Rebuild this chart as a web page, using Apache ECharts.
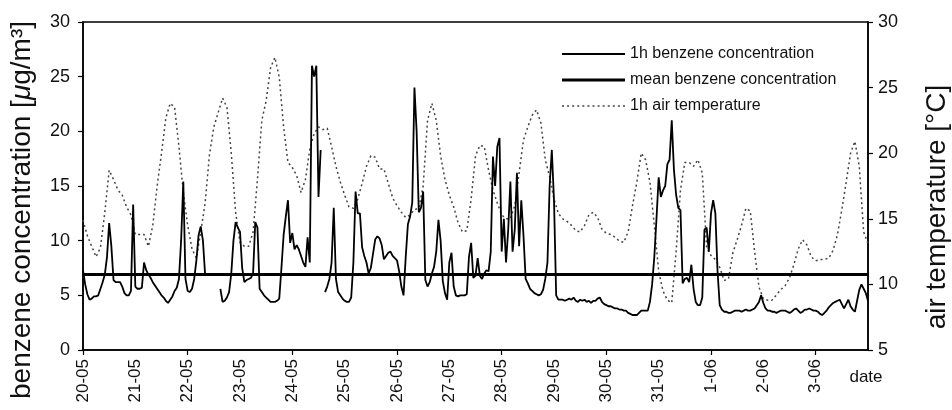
<!DOCTYPE html>
<html>
<head>
<meta charset="utf-8">
<script src="https://cdn.jsdelivr.net/npm/echarts@6/dist/echarts.min.js"></script>
<style>
html,body{margin:0;padding:0;background:#fff;}
#chart{width:952px;height:410px;}
</style>
</head>
<body>
<div id="chart"></div>
<script>
// x-axis day labels (one per day, hourly data from 20-05 00:00 to 4-06 00:00)
const dayLabels = ['20-05','21-05','22-05','23-05','24-05','25-05','26-05','27-05','28-05','29-05','30-05','31-05','1-06','2-06','3-06'];

// 1h benzene concentration [ug/m3], hourly, null = missing
const benzene1h = [
  7.3,6.0,5.1,4.6,4.7,4.9,4.9,5.0,5.6,6.2,6.9,8.5,11.6,9.5,6.4,6.2,6.2,6.2,5.8,5.2,5.0,5.0,5.4,13.3,
  5.8,5.6,5.6,5.7,8.0,7.3,6.9,6.6,6.2,5.9,5.6,5.3,5.0,4.8,4.5,4.3,4.6,4.9,5.4,5.7,6.5,10.0,15.4,6.5,
  5.4,5.3,5.6,6.5,8.2,10.5,11.3,10.0,6.9,null,null,null,null,null,null,5.6,4.4,4.5,4.8,5.3,7.0,10.0,11.7,11.2,
  10.8,7.5,6.2,6.4,6.5,6.6,7.0,11.7,11.2,5.6,5.3,5.0,4.8,4.6,4.4,4.4,4.4,4.5,4.7,7.5,10.5,12.2,13.7,9.8,
  10.7,9.2,9.6,9.2,8.6,8.0,7.6,10.3,8.0,26.0,25.0,26.0,14.0,18.3,null,5.3,5.8,6.5,8.0,13.0,6.5,5.3,5.0,4.7,
  4.5,4.4,4.4,4.8,8.0,14.5,12.5,12.5,9.4,8.6,8.0,7.0,7.5,8.8,10.1,10.4,10.2,9.6,8.3,8.6,8.9,9.0,8.6,8.4,
  8.2,7.2,5.8,5.0,8.5,11.5,12.2,13.5,24.0,20.0,12.6,13.0,14.5,6.4,5.8,6.2,7.0,7.6,9.0,11.9,10.0,6.3,5.2,4.6,
  8.0,8.9,5.8,5.0,4.9,5.0,5.0,5.0,5.1,8.5,9.8,6.6,6.8,8.4,6.8,6.5,7.0,7.3,7.2,9.0,17.7,15.0,18.6,19.4,
  9.0,12.0,8.0,11.0,15.4,9.0,11.0,16.2,9.5,13.7,10.5,6.5,6.1,5.6,5.4,5.2,5.1,5.0,5.1,5.5,6.5,8.0,15.0,18.3,
  13.7,5.0,4.6,4.6,4.6,4.5,4.6,4.7,4.6,4.8,4.5,4.4,4.6,4.5,4.6,4.4,4.5,4.3,4.5,4.5,4.7,4.8,4.4,4.2,
  4.1,4.0,4.0,3.9,3.8,3.8,3.7,3.7,3.6,3.6,3.4,3.3,3.2,3.2,3.2,3.4,3.6,3.6,3.6,3.6,4.4,6.0,8.5,12.0,
  15.8,14.0,14.6,15.0,17.0,17.4,21.0,16.5,14.2,13.0,12.8,6.1,6.5,6.6,6.2,7.8,5.6,4.4,4.1,4.1,4.8,11.0,11.2,9.0,
  12.5,13.7,12.5,7.2,4.1,3.7,3.5,3.5,3.4,3.4,3.5,3.6,3.6,3.6,3.5,3.6,3.7,3.6,3.6,3.7,3.8,4.1,4.4,5.0,
  4.3,3.8,3.6,3.6,3.5,3.5,3.4,3.5,3.6,3.6,3.6,3.5,3.4,3.5,3.7,3.8,3.6,3.4,3.5,3.7,3.7,3.8,3.7,3.6,
  3.6,3.5,3.3,3.2,3.4,3.6,3.9,4.1,4.3,4.4,4.5,4.6,4.2,3.8,4.2,4.6,4.0,3.7,3.5,4.5,5.5,6.0,5.6,5.2,4.5
];

// mean benzene concentration over the period [ug/m3]
const meanBenzene = 6.9;

// 1h air temperature [deg C], read every 2 hours
const temp2h = [
  14.9,13.7,12.9,12.1,12.8,15.5,18.7,18.0,17.2,16.8,
  15.9,15.3,13.8,13.8,13.8,12.9,14.5,17.5,20.0,22.7,
  23.8,23.5,20.5,17.0,14.5,12.7,12.0,14.0,16.2,19.9,
  22.0,23.1,24.2,23.5,20.0,15.5,13.2,12.9,12.9,14.0,
  18.0,22.5,24.0,26.5,27.3,25.8,22.0,19.3,18.9,18.3,
  17.0,18.0,20.3,21.5,22.0,21.8,21.9,20.5,19.0,17.8,
  16.8,15.9,15.8,16.5,17.7,19.0,19.8,19.7,18.8,18.8,
  17.7,16.6,16.0,15.5,15.1,15.3,15.7,15.8,17.5,22.5,
  23.8,22.5,19.8,18.0,16.8,15.9,14.7,14.0,14.1,16.5,
  19.8,20.6,20.5,18.7,17.2,16.2,15.3,15.0,15.0,16.0,
  18.5,21.0,22.0,22.9,23.3,22.3,19.5,18.2,16.5,15.4,
  15.0,14.8,14.5,14.1,14.0,14.5,15.3,15.5,15.1,14.2,
  13.9,13.8,13.6,13.3,13.2,14.0,16.0,17.8,20.0,19.5,
  17.8,14.5,11.0,9.5,8.8,8.6,12.5,17.2,19.3,19.3,
  19.0,19.5,18.5,12.8,12.2,11.9,11.3,10.3,10.4,12.4,
  13.4,14.5,15.8,15.6,12.5,9.8,8.9,8.8,8.8,9.2,
  9.6,9.9,10.5,11.5,12.7,13.4,13.0,12.1,11.8,11.9,
  11.9,12.0,12.6,13.8,15.7,17.8,20.0,20.9,19.0,14.0,
  13.1
];

// hourly categories
const hours = [];
for (let h = 0; h < benzene1h.length; h++) hours.push(h);
const tempHourly = hours.map(h => (h % 2 === 0 ? temp2h[h / 2] : null));
const lastHour = hours.length - 1;

// legend icons (plain line samples, no symbol)
const solidIcon = (t) => 'path://M0,0h64v' + t + 'h-64z';
let dotPath = 'path://';
for (let p = 0; p <= 60; p += 5) dotPath += 'M' + p + ',0h2v1.3h-2z';

const FONT = '"Liberation Sans", Arial, sans-serif';
const chart = echarts.init(document.getElementById('chart'), null, {renderer: 'canvas'});

chart.setOption({
  animation: false,
  backgroundColor: '#fff',
  textStyle: {fontFamily: FONT},
  grid: {left: 83, right: 84, top: 22, bottom: 60, show: true, borderColor: '#000', borderWidth: 1.5},
  legend: {
    orient: 'vertical', left: 557, top: 41,
    itemWidth: 63, itemHeight: 14, itemGap: 10,
    textStyle: {fontSize: 16, color: '#111', fontFamily: FONT},
    data: [
      {name: '1h benzene concentration', icon: solidIcon(1.8)},
      {name: 'mean benzene concentration', icon: solidIcon(3)},
      {name: '1h air temperature', icon: dotPath}
    ]
  },
  xAxis: {
    type: 'category', data: hours, boundaryGap: false,
    axisLine: {lineStyle: {color: '#000', width: 1.5}},
    axisTick: {interval: (i) => i % 48 === 0, length: 5, lineStyle: {color: '#000', width: 1.2}},
    axisLabel: {
      interval: (i) => i % 24 === 0 && i < lastHour,
      rotate: 90, fontSize: 17, color: '#111', margin: 9, fontFamily: FONT,
      formatter: (v) => dayLabels[Number(v) / 24] || ''
    },
    splitLine: {show: false}
  },
  yAxis: [
    {
      type: 'value', min: 0, max: 30, interval: 5,
      axisLine: {show: true, lineStyle: {color: '#000', width: 1.5}},
      axisTick: {show: true, length: 5, lineStyle: {color: '#000', width: 1.2}},
      axisLabel: {fontSize: 18, color: '#111', margin: 13, fontFamily: FONT},
      splitLine: {show: false}
    },
    {
      type: 'value', position: 'right', min: 5, max: 30, interval: 5,
      axisLine: {show: true, lineStyle: {color: '#000', width: 1.5}},
      axisTick: {show: true, length: 5, lineStyle: {color: '#000', width: 1.2}},
      axisLabel: {fontSize: 18, color: '#111', margin: 10, fontFamily: FONT},
      splitLine: {show: false}
    }
  ],
  series: [
    {
      name: '1h benzene concentration', type: 'line', yAxisIndex: 0,
      data: benzene1h, symbol: 'none', showSymbol: false, connectNulls: false,
      lineStyle: {color: '#000', width: 1.8}, itemStyle: {color: '#000'}, z: 4
    },
    {
      name: 'mean benzene concentration', type: 'line', yAxisIndex: 0,
      data: [[0, meanBenzene], [lastHour, meanBenzene]], symbol: 'none', showSymbol: false,
      lineStyle: {color: '#000', width: 3}, itemStyle: {color: '#000'}, z: 5
    },
    {
      name: '1h air temperature', type: 'line', yAxisIndex: 1,
      data: tempHourly, symbol: 'none', showSymbol: false, connectNulls: true,
      lineStyle: {color: '#444', width: 1.5, type: [2, 3]}, itemStyle: {color: '#444'}, z: 2
    }
  ],
  graphic: [
    {
      type: 'text', x: 22, y: 210, rotation: Math.PI / 2,
      style: {
        text: '{a|benzene concentration [}{i|μ}{a|g/m³]}',
        align: 'center', verticalAlign: 'middle', fill: '#111',
        rich: {
          a: {fontSize: 28, fontFamily: FONT, fill: '#111'},
          i: {fontSize: 28, fontFamily: FONT, fontStyle: 'italic', fill: '#111'}
        }
      }
    },
    {
      type: 'text', x: 937, y: 207, rotation: Math.PI / 2,
      style: {text: 'air temperature [°C]', font: '28px ' + FONT, fill: '#111', align: 'center', verticalAlign: 'middle'}
    },
    {
      type: 'text', x: 866, y: 377,
      style: {text: 'date', font: '17px ' + FONT, fill: '#111', align: 'center', verticalAlign: 'middle'}
    }
  ]
});
</script>
</body>
</html>
